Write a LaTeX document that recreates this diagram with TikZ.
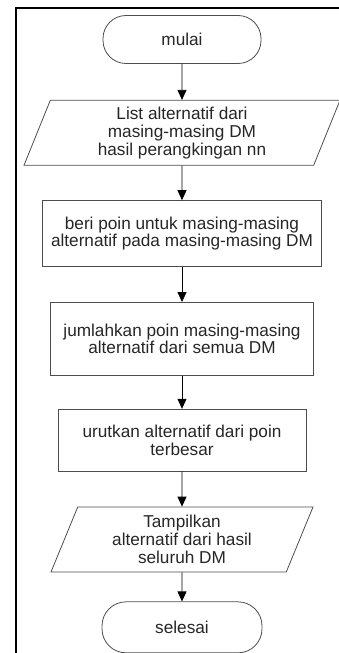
\documentclass[tikz,border=0pt]{standalone}
\usepackage{fontspec}
\setmainfont{Liberation Sans}
\usetikzlibrary{shapes.geometric,arrows.meta,positioning}
\definecolor{fc-line}{HTML}{4D4D4D}
\definecolor{fc-text}{HTML}{262626}
\tikzset{
  terminal/.style={draw=fc-line, rectangle, rounded corners=23pt, minimum width=158pt, minimum height=48pt, text=fc-text},
  process/.style={draw=fc-line, rectangle, align=center, text=fc-text, inner sep=0pt},
  io/.style={draw=fc-line, trapezium, trapezium stretches body, align=center, text=fc-text, inner sep=0pt, minimum height=65pt},
  flow/.style={-{Triangle[width=9pt,length=10pt]}, black, line width=0.8pt},
}
\begin{document}
\begin{tikzpicture}[x=1pt, y=1pt, line width=0.8pt, font=\fontsize{17.2}{17.8}\selectfont]
    \useasboundingbox (0,0) rectangle (339,-653);
    % frame
    \draw[line width=2.8pt] (16,-653) -- (16,-8) -- (339,-8);
    \node[terminal] (start) at (182,-39.5) {mulai};
    \node[io, trapezium left angle=63, trapezium right angle=117, minimum width=316pt, below=36pt of start] (list) {List alternatif dari\\masing-masing DM\\hasil perangkingan nn};
    \node[process, minimum width=279pt, minimum height=66pt, below=34.5pt of list] (poin) {beri poin untuk masing-masing\\alternatif pada masing-masing DM};
    \node[process, minimum width=263pt, minimum height=73pt, below=35pt of poin] (jumlah) {jumlahkan poin masing-masing\\alternatif dari semua DM};
    \node[process, minimum width=248pt, minimum height=62pt, below=33pt of jumlah] (urut) {urutkan alternatif dari poin\\terbesar};
    \node[io, trapezium left angle=61, trapezium right angle=119, minimum width=262pt, below=35pt of urut] (tampil) {Tampilkan\\alternatif dari hasil\\seluruh DM};
    \node[terminal, minimum width=160pt, minimum height=51pt, rounded corners=24pt, below=29pt of tampil] (stop) {selesai};
    % arrows
    \draw[flow] (start) -- (list);
    \draw[flow] (list) -- (poin);
    \draw[flow] (poin) -- (jumlah);
    \draw[flow] (jumlah) -- (urut);
    \draw[flow] (urut) -- (tampil);
    \draw[flow] (tampil) -- (stop);
\end{tikzpicture}
\end{document}
